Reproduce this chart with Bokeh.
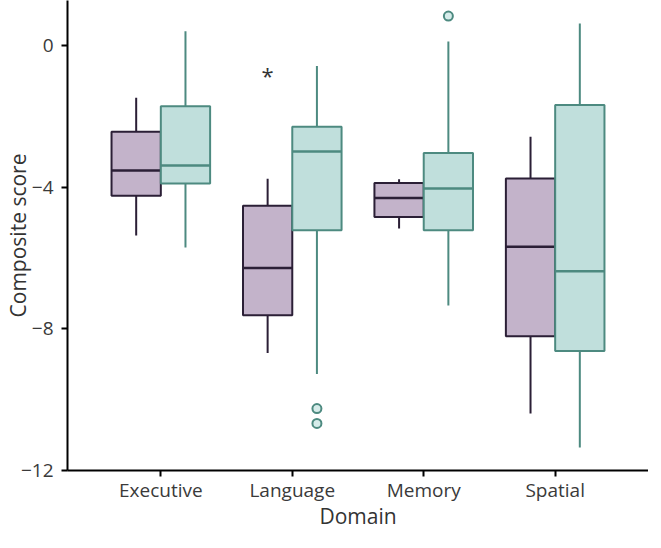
from bokeh.plotting import figure
from bokeh.models import ColumnDataSource, FactorRange, FixedTicker, Range1d
from bokeh.transform import dodge
from bokeh.core.properties import value
from bokeh.embed import file_html
from bokeh.resources import INLINE

domains = ["Executive", "Language", "Memory", "Spatial"]

# group 1 (purple)
g1_whisk_low = [-5.36, -8.68, -5.16, -10.39]
g1_q1 = [-4.24, -7.61, -4.84, -8.21]
g1_median = [-3.52, -6.28, -4.30, -5.68]
g1_q3 = [-2.43, -4.52, -3.88, -3.75]
g1_whisk_high = [-1.47, -3.76, -3.77, -2.57]

# group 2 (teal)
g2_whisk_low = [-5.70, -9.27, -7.34, -11.35]
g2_q1 = [-3.89, -5.21, -5.21, -8.62]
g2_median = [-3.38, -2.99, -4.03, -6.37]
g2_q3 = [-1.71, -2.29, -3.03, -1.67]
g2_whisk_high = [0.41, -0.57, 0.12, 0.63]

g2_outlier_domain = ["Language", "Language", "Memory"]
g2_outlier_value = [-10.25, -10.67, 0.84]

star_domain = ["Language"]
star_value = [-0.60]
star_text = ["*"]

y_ticks = [-12, -8, -4, 0]
y_tick_labels = ["\u221212", "\u22128", "\u22124", "0"]

FONT = "Open Sans"
P_FILL, P_LINE = "#c3b3ca", "#2b1f36"
T_FILL, T_LINE = "#c0dfdc", "#4d8a80"

p = figure(
    x_range=FactorRange(factors=domains, range_padding=0.21, range_padding_units="absolute"),
    y_range=Range1d(-12, 1.28),
    width=648, height=532,
    output_backend="svg", toolbar_location=None,
    min_border_left=58, min_border_right=0, min_border_top=0, min_border_bottom=56,
)
p.outline_line_color = None
p.xgrid.visible = False
p.ygrid.visible = False

OFF = 0.1875
W = 0.375


def draw_group(lo, q1, med, q3, hi, off, fill, line):
    src = ColumnDataSource(dict(domain=domains, lo=lo, q1=q1, med=med, q3=q3, hi=hi))
    xc = dodge("domain", off, range=p.x_range)
    p.segment(x0=xc, x1=xc, y0="q3", y1="hi", source=src, line_color=line, line_width=2)
    p.segment(x0=xc, x1=xc, y0="q1", y1="lo", source=src, line_color=line, line_width=2)
    p.vbar(x=xc, width=W, top="q3", bottom="q1", source=src,
           fill_color=fill, line_color=line, line_width=2)
    p.segment(x0=dodge("domain", off - W / 2, range=p.x_range),
              x1=dodge("domain", off + W / 2, range=p.x_range),
              y0="med", y1="med", source=src, line_color=line, line_width=2.5)


draw_group(g1_whisk_low, g1_q1, g1_median, g1_q3, g1_whisk_high, -OFF, P_FILL, P_LINE)
draw_group(g2_whisk_low, g2_q1, g2_median, g2_q3, g2_whisk_high, OFF, T_FILL, T_LINE)

out_src = ColumnDataSource(dict(domain=g2_outlier_domain, v=g2_outlier_value))
p.scatter(x=dodge("domain", OFF, range=p.x_range), y="v", source=out_src, marker="circle",
          size=9, line_color=T_LINE, fill_color="#d6ecea", line_width=2)

star_src = ColumnDataSource(dict(domain=star_domain, v=star_value, t=star_text))
p.text(x=dodge("domain", -OFF, range=p.x_range), y="v", text="t", source=star_src,
       text_align="center", text_baseline="middle", y_offset=8,
       text_font=value(FONT), text_font_size="22px", text_color="#333333")

for ax in (p.xaxis[0], p.yaxis[0]):
    ax.axis_line_width = 2
    ax.axis_line_color = "black"
    ax.major_tick_line_width = 2
    ax.major_tick_line_color = "black"
    ax.major_tick_out = 6
    ax.major_tick_in = 0
    ax.minor_tick_line_color = None
    ax.major_label_text_font = FONT
    ax.major_label_text_font_size = "19px"
    ax.major_label_text_color = "#3a3a3a"
    ax.axis_label_text_font = FONT
    ax.axis_label_text_font_size = "21px"
    ax.axis_label_text_font_style = "normal"
    ax.axis_label_text_color = "#333333"

p.yaxis.ticker = FixedTicker(ticks=y_ticks)
p.yaxis.major_label_overrides = {t: l for t, l in zip(y_ticks, y_tick_labels)}
p.yaxis.axis_label = "Composite score"
p.yaxis.major_label_standoff = 8
p.yaxis.axis_label_standoff = -14
p.xaxis.axis_label = "Domain"
p.xaxis.major_label_standoff = 0
p.xaxis.axis_label_standoff = -4

open("out.html", "w").write(file_html(p, INLINE))
